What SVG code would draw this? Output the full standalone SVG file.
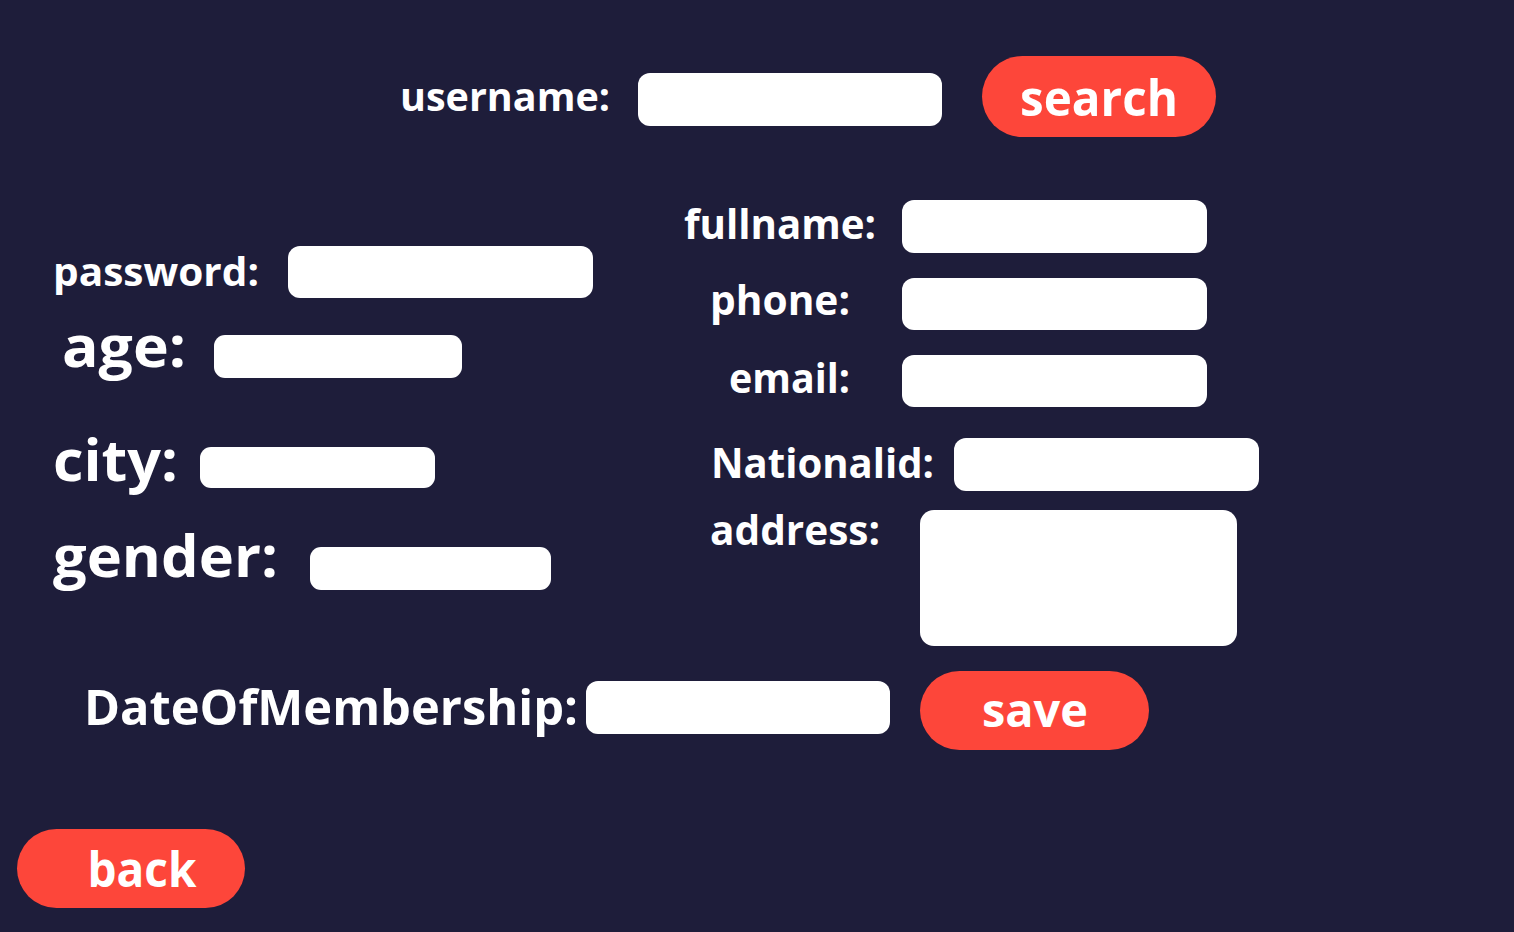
<svg xmlns="http://www.w3.org/2000/svg" width="1514" height="932" viewBox="0 0 1514 932">
<style>
.lbl{fill:#ffffff;font-family:"Open Sans","Noto Sans","Liberation Sans",sans-serif;font-weight:700;}
.field{fill:#ffffff;}
.btn{fill:#fd463a;}
.btxt{fill:#ffffff;font-family:"Open Sans","Noto Sans","Liberation Sans",sans-serif;font-weight:700;text-anchor:middle;}
</style>
<rect x="0" y="0" width="1514" height="932" fill="#1e1d3a"/>
<g id="username">
<text class="lbl" x="400" y="111" font-size="40" textLength="210" lengthAdjust="spacingAndGlyphs">username:</text>
<rect class="field" x="638" y="73" width="304" height="53" rx="12"/>
</g>
<g id="search">
<rect class="btn" x="982" y="56" width="234" height="81" rx="40.5"/>
<text class="btxt" x="1099" y="116" font-size="50" textLength="158" lengthAdjust="spacingAndGlyphs">search</text>
</g>
<g id="fullname">
<text class="lbl" x="684" y="239" font-size="42" textLength="192" lengthAdjust="spacingAndGlyphs">fullname:</text>
<rect class="field" x="902" y="200" width="305" height="53" rx="12"/>
</g>
<g id="phone">
<text class="lbl" x="710" y="315" font-size="42" textLength="140" lengthAdjust="spacingAndGlyphs">phone:</text>
<rect class="field" x="902" y="278" width="305" height="52" rx="12"/>
</g>
<g id="email">
<text class="lbl" x="729" y="393" font-size="42" textLength="121" lengthAdjust="spacingAndGlyphs">email:</text>
<rect class="field" x="902" y="355" width="305" height="52" rx="12"/>
</g>
<g id="nationalid">
<text class="lbl" x="711" y="478" font-size="42" textLength="223" lengthAdjust="spacingAndGlyphs">Nationalid:</text>
<rect class="field" x="954" y="438" width="305" height="53" rx="12"/>
</g>
<g id="address">
<text class="lbl" x="710" y="545" font-size="42" textLength="170" lengthAdjust="spacingAndGlyphs">address:</text>
<rect class="field" x="920" y="510" width="317" height="136" rx="14"/>
</g>
<g id="password">
<text class="lbl" x="53" y="286" font-size="40" textLength="206" lengthAdjust="spacingAndGlyphs">password:</text>
<rect class="field" x="288" y="246" width="305" height="52" rx="12"/>
</g>
<g id="age">
<text class="lbl" x="62" y="367" font-size="58" textLength="124" lengthAdjust="spacingAndGlyphs">age:</text>
<rect class="field" x="214" y="335" width="248" height="43" rx="11"/>
</g>
<g id="city">
<text class="lbl" x="53" y="481" font-size="58" textLength="125" lengthAdjust="spacingAndGlyphs">city:</text>
<rect class="field" x="200" y="447" width="235" height="41" rx="11"/>
</g>
<g id="gender">
<text class="lbl" x="53" y="577" font-size="58" textLength="225" lengthAdjust="spacingAndGlyphs">gender:</text>
<rect class="field" x="310" y="547" width="241" height="43" rx="11"/>
</g>
<g id="dateofmembership">
<text class="lbl" x="84" y="725" font-size="48" textLength="494" lengthAdjust="spacingAndGlyphs">DateOfMembership:</text>
<rect class="field" x="586" y="681" width="304" height="53" rx="12"/>
</g>
<g id="save">
<rect class="btn" x="920" y="671" width="229" height="79" rx="39.5"/>
<text class="btxt" x="1035" y="727" font-size="46" textLength="106" lengthAdjust="spacingAndGlyphs">save</text>
</g>
<g id="back">
<rect class="btn" x="17" y="829" width="228" height="79" rx="39.5"/>
<text class="btxt" x="142" y="887" font-size="48" textLength="109" lengthAdjust="spacingAndGlyphs">back</text>
</g>
<g id="connectors"/>
</svg>
